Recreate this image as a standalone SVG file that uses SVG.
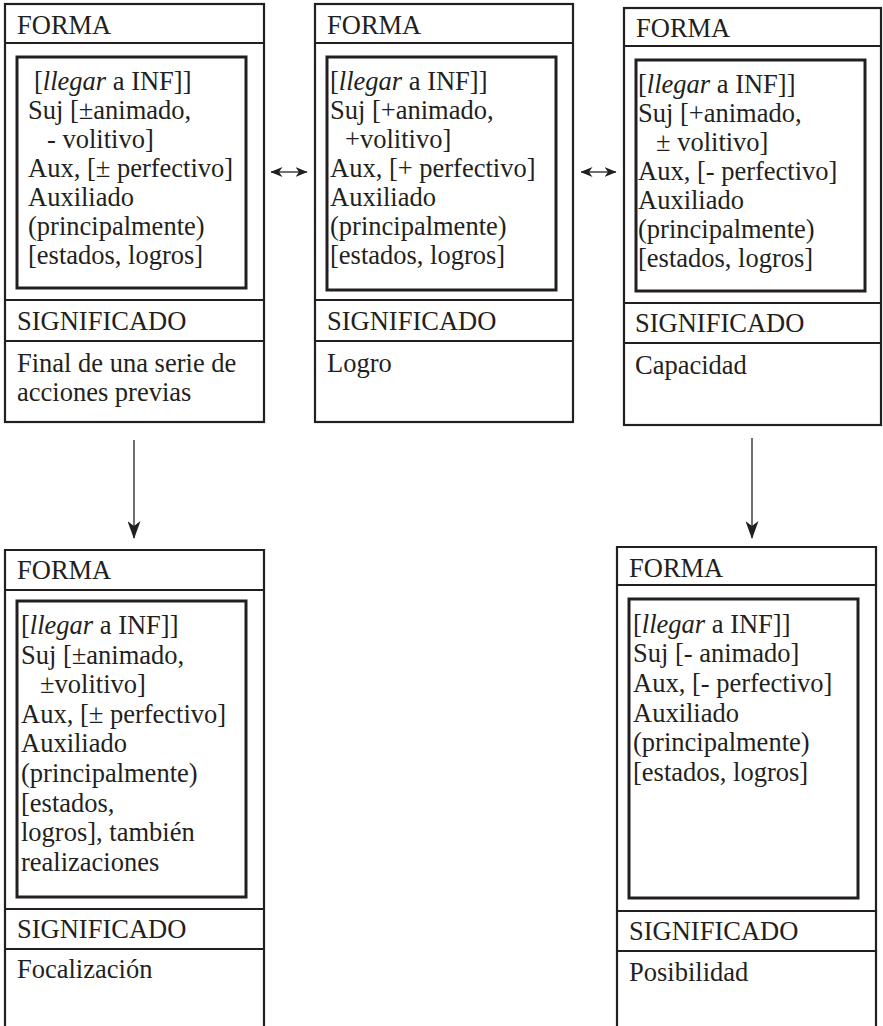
<svg xmlns="http://www.w3.org/2000/svg" width="883" height="1026" viewBox="0 0 883 1026">
<style>
.outer{fill:none;stroke:#231f20;stroke-width:2.2}
.inner{fill:none;stroke:#231f20;stroke-width:3}
.t{font-family:"Liberation Serif","Times New Roman",serif;font-size:26.5px;fill:#231f20}
.conn{stroke:#414042;stroke-width:1.5;fill:none}
</style>
<defs>
<marker id="big" viewBox="0 0 18 13" refX="17" refY="6.5" markerWidth="18" markerHeight="13" markerUnits="userSpaceOnUse" orient="auto">
<path d="M0,0 L18,6.5 L0,13 L5,6.5 z" fill="#231f20"/>
</marker>
<marker id="small" viewBox="0 0 12 10" refX="11.5" refY="5" markerWidth="12" markerHeight="10" markerUnits="userSpaceOnUse" orient="auto-start-reverse">
<path d="M0,0 L12,5 L0,10 L3.5,5 z" fill="#231f20"/>
</marker>
</defs>
<rect width="883" height="1026" fill="#fff"/>

<g id="node1">
<rect class="outer" x="5" y="4" width="259" height="418"/>
<line class="outer" x1="5" y1="43" x2="264" y2="43"/>
<line class="outer" x1="5" y1="300" x2="264" y2="300"/>
<line class="outer" x1="5" y1="341" x2="264" y2="341"/>
<rect class="inner" x="17" y="57" width="229" height="231"/>
<text class="t" x="17" y="34">FORMA</text>
<text class="t" x="34" y="90">[<tspan font-style="italic">llegar</tspan> a INF]]</text>
<text class="t" x="28" y="119">Suj [±animado,</text>
<text class="t" x="47" y="148">- volitivo]</text>
<text class="t" x="28" y="177">Aux, [± perfectivo]</text>
<text class="t" x="28" y="206">Auxiliado</text>
<text class="t" x="28" y="235">(principalmente)</text>
<text class="t" x="28" y="264">[estados, logros]</text>
<text class="t" x="17" y="330">SIGNIFICADO</text>
<text class="t" x="17" y="372">Final de una serie de</text>
<text class="t" x="17" y="401">acciones previas</text>
</g>

<g id="node2">
<rect class="outer" x="315" y="4" width="258" height="418"/>
<line class="outer" x1="315" y1="43" x2="573" y2="43"/>
<line class="outer" x1="315" y1="300" x2="573" y2="300"/>
<line class="outer" x1="315" y1="341" x2="573" y2="341"/>
<rect class="inner" x="327" y="57" width="229" height="233"/>
<text class="t" x="327" y="34">FORMA</text>
<text class="t" x="330" y="90">[<tspan font-style="italic">llegar</tspan> a INF]]</text>
<text class="t" x="330" y="119">Suj [+animado,</text>
<text class="t" x="345" y="148">+volitivo]</text>
<text class="t" x="330" y="177">Aux, [+ perfectivo]</text>
<text class="t" x="330" y="206">Auxiliado</text>
<text class="t" x="330" y="235">(principalmente)</text>
<text class="t" x="330" y="264">[estados, logros]</text>
<text class="t" x="327" y="330">SIGNIFICADO</text>
<text class="t" x="327" y="372">Logro</text>
</g>

<g id="node3">
<rect class="outer" x="624" y="8" width="257" height="417"/>
<line class="outer" x1="624" y1="46" x2="881" y2="46"/>
<line class="outer" x1="624" y1="303" x2="881" y2="303"/>
<line class="outer" x1="624" y1="343" x2="881" y2="343"/>
<rect class="inner" x="636" y="60" width="229" height="231"/>
<text class="t" x="636" y="37">FORMA</text>
<text class="t" x="638" y="93">[<tspan font-style="italic">llegar</tspan> a INF]]</text>
<text class="t" x="638" y="122">Suj [+animado,</text>
<text class="t" x="656" y="151">± volitivo]</text>
<text class="t" x="638" y="180">Aux, [- perfectivo]</text>
<text class="t" x="638" y="209">Auxiliado</text>
<text class="t" x="638" y="238">(principalmente)</text>
<text class="t" x="638" y="267">[estados, logros]</text>
<text class="t" x="635" y="332">SIGNIFICADO</text>
<text class="t" x="635" y="374">Capacidad</text>
</g>

<g id="node4">
<path class="outer" d="M5,1026 V550 H264 V1026"/>
<line class="outer" x1="5" y1="590" x2="264" y2="590"/>
<line class="outer" x1="5" y1="909" x2="264" y2="909"/>
<line class="outer" x1="5" y1="949" x2="264" y2="949"/>
<rect class="inner" x="17" y="601" width="229" height="296"/>
<text class="t" x="17" y="579">FORMA</text>
<text class="t" x="21" y="634">[<tspan font-style="italic">llegar</tspan> a INF]]</text>
<text class="t" x="21" y="664">Suj [±animado,</text>
<text class="t" x="40" y="693">±volitivo]</text>
<text class="t" x="21" y="723">Aux, [± perfectivo]</text>
<text class="t" x="21" y="752">Auxiliado</text>
<text class="t" x="21" y="782">(principalmente)</text>
<text class="t" x="21" y="812">[estados,</text>
<text class="t" x="21" y="841">logros], también</text>
<text class="t" x="21" y="871">realizaciones</text>
<text class="t" x="17" y="938">SIGNIFICADO</text>
<text class="t" x="17" y="978">Focalización</text>
</g>

<g id="node5">
<path class="outer" d="M617,1026 V547 H876 V1026"/>
<line class="outer" x1="617" y1="585" x2="876" y2="585"/>
<line class="outer" x1="617" y1="911" x2="876" y2="911"/>
<line class="outer" x1="617" y1="951" x2="876" y2="951"/>
<rect class="inner" x="629" y="599" width="229" height="299"/>
<text class="t" x="629" y="577">FORMA</text>
<text class="t" x="633" y="633">[<tspan font-style="italic">llegar</tspan> a INF]]</text>
<text class="t" x="633" y="662">Suj [- animado]</text>
<text class="t" x="633" y="692">Aux, [- perfectivo]</text>
<text class="t" x="633" y="722">Auxiliado</text>
<text class="t" x="633" y="751">(principalmente)</text>
<text class="t" x="633" y="781">[estados, logros]</text>
<text class="t" x="629" y="940">SIGNIFICADO</text>
<text class="t" x="629" y="981">Posibilidad</text>
</g>

<g id="connectors">
<line class="conn" x1="134" y1="440" x2="134" y2="538" marker-end="url(#big)"/>
<line class="conn" x1="752" y1="438" x2="752" y2="538" marker-end="url(#big)"/>
<line class="conn" stroke-width="1.2" x1="271" y1="172" x2="307" y2="172" marker-start="url(#small)" marker-end="url(#small)"/>
<line class="conn" stroke-width="1.2" x1="581" y1="172" x2="616" y2="172" marker-start="url(#small)" marker-end="url(#small)"/>
</g>
</svg>
